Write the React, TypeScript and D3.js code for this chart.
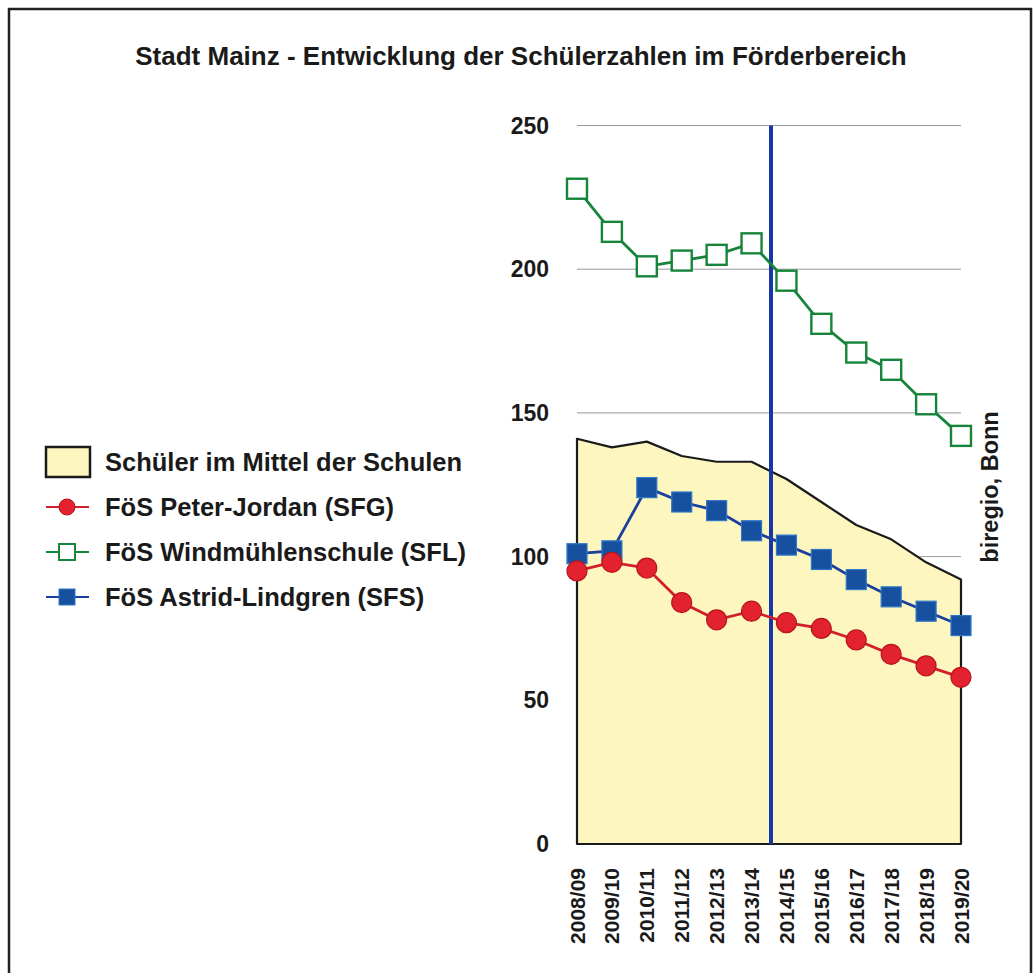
import React, { useEffect, useRef } from "react";
import * as d3 from "d3";

// school years
const years = ["2008/09", "2009/10", "2010/11", "2011/12", "2012/13", "2013/14", "2014/15", "2015/16", "2016/17", "2017/18", "2018/19", "2019/20"];
// average pupils per school (yellow area)
const mittel = [141, 138, 140, 135, 133, 133, 127, 119, 111, 106, 98, 92];
// FöS Peter-Jordan (SFG)
const sfg = [95, 98, 96, 84, 78, 81, 77, 75, 71, 66, 62, 58];
// FöS Windmühlenschule (SFL)
const sfl = [228, 213, 201, 203, 205, 209, 196, 181, 171, 165, 153, 142];
// FöS Astrid-Lindgren (SFS)
const sfs = [101, 102, 124, 119, 116, 109, 104, 99, 92, 86, 81, 76];
const yTicks = [0, 50, 100, 150, 200, 250];
const legendLabels = ["Schüler im Mittel der Schulen", "FöS Peter-Jordan (SFG)", "FöS Windmühlenschule (SFL)", "FöS Astrid-Lindgren (SFS)"];

const W = 1034, H = 973;
const font = "'Liberation Sans', Arial, sans-serif";

export default function App() {
  const ref = useRef<SVGSVGElement>(null);

  useEffect(() => {
    const svg = d3.select(ref.current);
    svg.selectAll("*").remove();

    const x = d3.scalePoint<string>().domain(years).range([577, 961]);
    const y = d3.scaleLinear().domain([0, 250]).range([844, 125.5]);

    // frame
    svg.append("path")
      .attr("d", `M9,${H + 5} L9,9 L1031,9 L1031,${H + 5}`)
      .attr("fill", "none").attr("stroke", "#222").attr("stroke-width", 2.5);

    svg.append("text")
      .attr("x", 521).attr("y", 65)
      .attr("text-anchor", "middle")
      .attr("font-family", font).attr("font-weight", "bold").attr("font-size", 26)
      .attr("fill", "#1a1a1a")
      .text("Stadt Mainz - Entwicklung der Schülerzahlen im Förderbereich");

    // grid
    svg.append("g").selectAll("line")
      .data(yTicks.filter(d => d > 0))
      .join("line")
      .attr("x1", 577).attr("x2", 961)
      .attr("y1", d => y(d)).attr("y2", d => y(d))
      .attr("stroke", "#9a9a9a").attr("stroke-width", 1);

    // y labels
    svg.append("g").selectAll("text")
      .data(yTicks)
      .join("text")
      .attr("x", 549).attr("y", d => y(d))
      .attr("dy", "0.35em")
      .attr("text-anchor", "end")
      .attr("font-family", font).attr("font-weight", "bold").attr("font-size", 23)
      .attr("fill", "#1a1a1a")
      .text(d => d);

    // x labels
    svg.append("g").selectAll("text")
      .data(years)
      .join("text")
      .attr("transform", d => `translate(${x(d)! + 7.5},868) rotate(-90)`)
      .attr("text-anchor", "end")
      .attr("font-family", font).attr("font-weight", "bold").attr("font-size", 21)
      .attr("fill", "#1a1a1a")
      .text(d => d);

    // area of averages
    const area = d3.area<number>()
      .x((_, i) => x(years[i])!)
      .y0(y(0))
      .y1(d => y(d));
    svg.append("path")
      .datum(mittel)
      .attr("d", area)
      .attr("fill", "#fdf7bf")
      .attr("stroke", "#1a1a1a").attr("stroke-width", 2.2)
      .attr("stroke-linejoin", "round");

    // vertical divider between 2013/14 and 2014/15
    const xMid = (x(years[5])! + x(years[6])!) / 2 + 2;
    svg.append("line")
      .attr("x1", xMid).attr("x2", xMid)
      .attr("y1", y(250)).attr("y2", y(0))
      .attr("stroke", "#1537a8").attr("stroke-width", 4);

    const line = d3.line<number>()
      .x((_, i) => x(years[i])!)
      .y(d => y(d));

    // SFL green
    svg.append("path").datum(sfl).attr("d", line)
      .attr("fill", "none").attr("stroke", "#16853a").attr("stroke-width", 2.8);
    svg.append("g").selectAll("rect").data(sfl).join("rect")
      .attr("x", (_, i) => x(years[i])! - 10).attr("y", d => y(d) - 10)
      .attr("width", 20).attr("height", 20)
      .attr("fill", "#fff").attr("stroke", "#16853a").attr("stroke-width", 2.4);

    // SFS blue
    svg.append("path").datum(sfs).attr("d", line)
      .attr("fill", "none").attr("stroke", "#1b3f9c").attr("stroke-width", 2.8);
    svg.append("g").selectAll("rect").data(sfs).join("rect")
      .attr("x", (_, i) => x(years[i])! - 10).attr("y", d => y(d) - 10)
      .attr("width", 20).attr("height", 20)
      .attr("fill", "#17509e").attr("stroke", "#2f78c8").attr("stroke-width", 1.2);

    // SFG red
    svg.append("path").datum(sfg).attr("d", line)
      .attr("fill", "none").attr("stroke", "#d0202c").attr("stroke-width", 2.8);
    svg.append("g").selectAll("circle").data(sfg).join("circle")
      .attr("cx", (_, i) => x(years[i])!).attr("cy", d => y(d))
      .attr("r", 10)
      .attr("fill", "#e3222f").attr("stroke", "#b8141e").attr("stroke-width", 1.2);

    // source note
    svg.append("text")
      .attr("transform", "translate(998,487) rotate(-90)")
      .attr("text-anchor", "middle")
      .attr("font-family", font).attr("font-weight", "bold").attr("font-size", 23.5)
      .attr("fill", "#1a1a1a")
      .text("biregio, Bonn");

    // legend
    const lg = svg.append("g");
    const rowY = [462, 507, 552, 597];
    lg.append("rect")
      .attr("x", 46).attr("y", rowY[0] - 15).attr("width", 44).attr("height", 30)
      .attr("fill", "#fdf7bf").attr("stroke", "#1a1a1a").attr("stroke-width", 2.5);
    const sym = [
      { c: "#d0202c", kind: "circle" },
      { c: "#16853a", kind: "open" },
      { c: "#1b3f9c", kind: "filled" },
    ];
    sym.forEach((s, k) => {
      const cy = rowY[k + 1];
      lg.append("line").attr("x1", 46).attr("x2", 89).attr("y1", cy).attr("y2", cy)
        .attr("stroke", s.c).attr("stroke-width", 2);
      if (s.kind === "circle") {
        lg.append("circle").attr("cx", 67).attr("cy", cy).attr("r", 8)
          .attr("fill", "#e3222f").attr("stroke", "#b8141e").attr("stroke-width", 1);
      } else if (s.kind === "open") {
        lg.append("rect").attr("x", 59).attr("y", cy - 8).attr("width", 16).attr("height", 16)
          .attr("fill", "#fff").attr("stroke", "#16853a").attr("stroke-width", 2);
      } else {
        lg.append("rect").attr("x", 59).attr("y", cy - 8).attr("width", 16).attr("height", 16)
          .attr("fill", "#17509e").attr("stroke", "#2f78c8").attr("stroke-width", 1);
      }
    });
    lg.selectAll("text").data(legendLabels).join("text")
      .attr("x", 105).attr("y", (_, i) => rowY[i])
      .attr("dy", "0.36em")
      .attr("font-family", font).attr("font-weight", "bold").attr("font-size", 25.5)
      .attr("fill", "#1a1a1a")
      .text(d => d);
  }, []);

  return (
    <svg ref={ref} width={W} height={H}
      style={{ position: "absolute", left: 0, top: 0, background: "#fff" }} />
  );
}
